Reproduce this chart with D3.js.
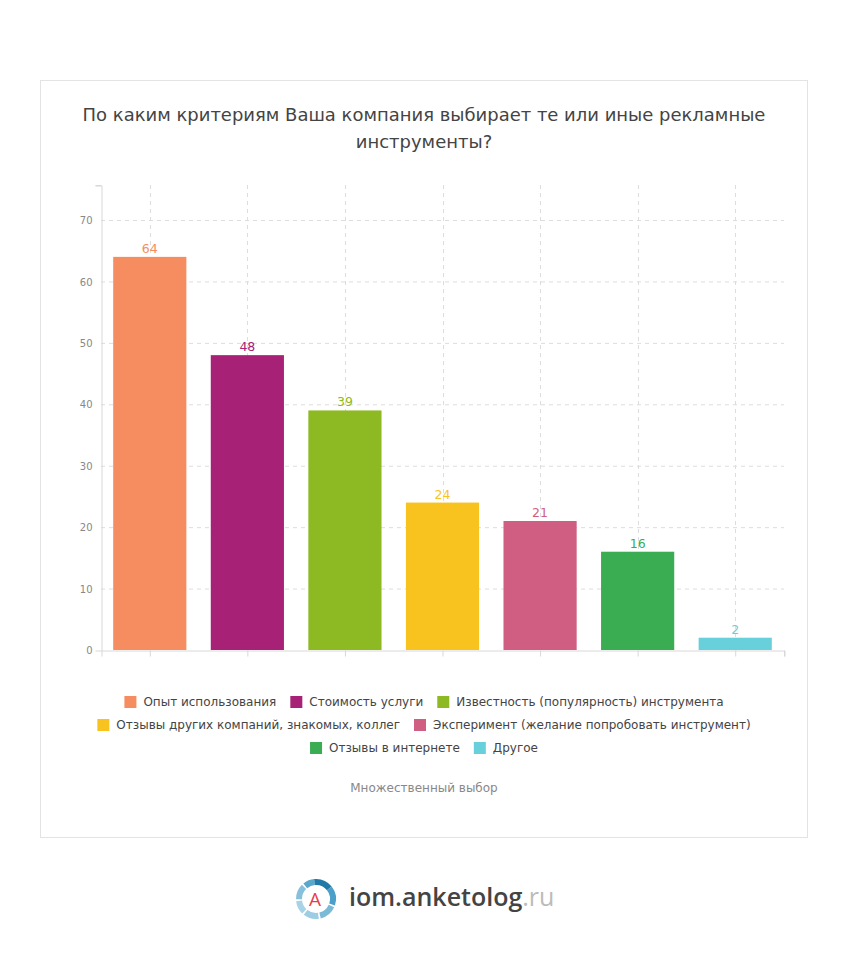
<!DOCTYPE html>
<html><head><meta charset="utf-8">
<script src="https://cdn.jsdelivr.net/npm/d3@7"></script>
<style>
body{margin:0;background:#fff;font-family:"DejaVu Sans",sans-serif;}
</style></head><body>
<svg id="c" width="848" height="960"></svg>
<script>
const categories = ["Опыт использования","Стоимость услуги","Известность (популярность) инструмента","Отзывы других компаний, знакомых, коллег","Эксперимент (желание попробовать инструмент)","Отзывы в интернете","Другое"];
const values = [64,48,39,24,21,16,2];
const colors = ["#F68D60","#A72176","#8DBA22","#F9C31F","#D05E83","#3AAC52","#68D0DA"];
const yTicks = [0,10,20,30,40,50,60,70];
const legendRows = [[0,1,2],[3,4],[5,6]];
const title = ["По каким критериям Ваша компания выбирает те или иные рекламные","инструменты?"];
const subtitle = "Множественный выбор";

const svg = d3.select("#c");
svg.append("rect").attr("x",40.5).attr("y",80.5).attr("width",767).attr("height",757)
  .attr("fill","#fff").attr("stroke","#e3e3e3");

const tt=svg.selectAll("text.title").data(title).join("text").attr("class","title")
  .attr("x",424).attr("y",(d,i)=>121+i*27).attr("text-anchor","middle")
  .attr("font-size",17).attr("fill","#444").text(d=>d);
// fit first line to reference width
const tw=tt.nodes()[0].getComputedTextLength();
tt.attr("textLength",null);
tt.attr("font-size",17*683/tw);

const L=101,R=784,T=185,B=650;
const x=d3.scaleBand().domain(categories).range([L,R]).paddingInner(0.25).paddingOuter(0.125);
const y=d3.scaleLinear().domain([0,75.7]).range([B,T]);

const g=svg.append("g");
g.selectAll("line.hg").data(yTicks.slice(1)).join("line")
  .attr("x1",L).attr("x2",R).attr("y1",d=>y(d)+0.5).attr("y2",d=>y(d)+0.5)
  .attr("stroke","#ddd").attr("stroke-dasharray","4,4");
g.selectAll("line.vg").data(categories).join("line")
  .attr("x1",d=>Math.round(x(d)+x.bandwidth()/2)+0.5).attr("x2",d=>Math.round(x(d)+x.bandwidth()/2)+0.5)
  .attr("y1",T).attr("y2",B).attr("stroke","#ddd").attr("stroke-dasharray","4,4");

g.selectAll("rect.bar").data(values).join("rect")
  .attr("x",(d,i)=>x(categories[i])).attr("width",x.bandwidth())
  .attr("y",d=>y(d)).attr("height",d=>B-y(d)).attr("fill",(d,i)=>colors[i]);
g.selectAll("text.val").data(values).join("text")
  .attr("x",(d,i)=>x(categories[i])+x.bandwidth()/2).attr("y",d=>y(d)-4)
  .attr("text-anchor","middle").attr("font-size",12.5).attr("fill",(d,i)=>colors[i]).text(d=>d);

const ya=d3.axisLeft(y).tickValues(yTicks).tickSize(6).tickPadding(3);
const yg=svg.append("g").attr("transform",`translate(${L+0.5},0.5)`).call(ya);
yg.select(".domain").attr("stroke","#d8d8d8");
yg.selectAll(".tick line").attr("stroke","#d8d8d8").attr("x2",0);
yg.selectAll(".tick text").attr("fill","#888").attr("font-size",10).attr("font-family","DejaVu Sans");
yg.append("line").attr("x1",-6).attr("x2",0).attr("y1",T).attr("y2",T).attr("stroke","#d8d8d8");

const xa=d3.axisBottom(x).tickSize(6).tickFormat("");
const xg=svg.append("g").attr("transform",`translate(0.5,${B+0.5})`).call(xa);
xg.select(".domain").attr("stroke","#d8d8d8");
xg.selectAll(".tick line").attr("stroke","#d8d8d8");
xg.append("line").attr("x1",R).attr("x2",R).attr("y1",0).attr("y2",6).attr("stroke","#d8d8d8");

const lg=svg.append("g");
legendRows.forEach((row,ri)=>{
  const gy=702+ri*23;
  const items=row.map(i=>{
    const t=lg.append("text").attr("font-size",12).attr("fill","#444").text(categories[i]);
    return {i,t,w:t.node().getComputedTextLength()};
  });
  const gap=14, sw=12, sp=7;
  const total=d3.sum(items,d=>sw+sp+d.w)+gap*(items.length-1);
  let cx=424-total/2;
  items.forEach(it=>{
    lg.append("rect").attr("x",cx).attr("y",gy-6).attr("width",sw).attr("height",sw).attr("fill",colors[it.i]);
    it.t.attr("x",cx+sw+sp).attr("y",gy+4);
    cx+=sw+sp+it.w+gap;
  });
});

svg.append("text").attr("x",424).attr("y",792).attr("text-anchor","middle")
  .attr("font-size",12).attr("fill","#888").text(subtitle);

const lo=svg.append("g").attr("transform","translate(316,899)");
const arc=d3.arc().innerRadius(14).outerRadius(20);
const segs=[[-0.1,0.9,"#2279a8"],[0.9,1.9,"#4aa0c9"],[2.0,2.9,"#7bbad6"],[3.0,3.8,"#9ccde2"],[3.9,4.6,"#a8d3e6"],[4.7,5.5,"#86c0dc"],[5.6,6.2,"#5aa7cc"]];
lo.selectAll("path").data(segs).join("path")
  .attr("d",d=>arc({startAngle:d[0],endAngle:d[1]})).attr("fill",d=>d[2]);
lo.append("text").attr("x",-1).attr("y",7).attr("text-anchor","middle").attr("font-size",19)
  .attr("fill","#e8404a").attr("font-family","Open Sans, Noto Sans").text("A");
const lt=svg.append("text").attr("x",349).attr("y",906).attr("font-size",25)
  .attr("font-family","Open Sans, Noto Sans").attr("font-weight",600);
lt.append("tspan").attr("fill","#444").text("iom.anketolog");
lt.append("tspan").attr("fill","#bbb").attr("font-weight",400).text(".ru");
</script></body></html>
